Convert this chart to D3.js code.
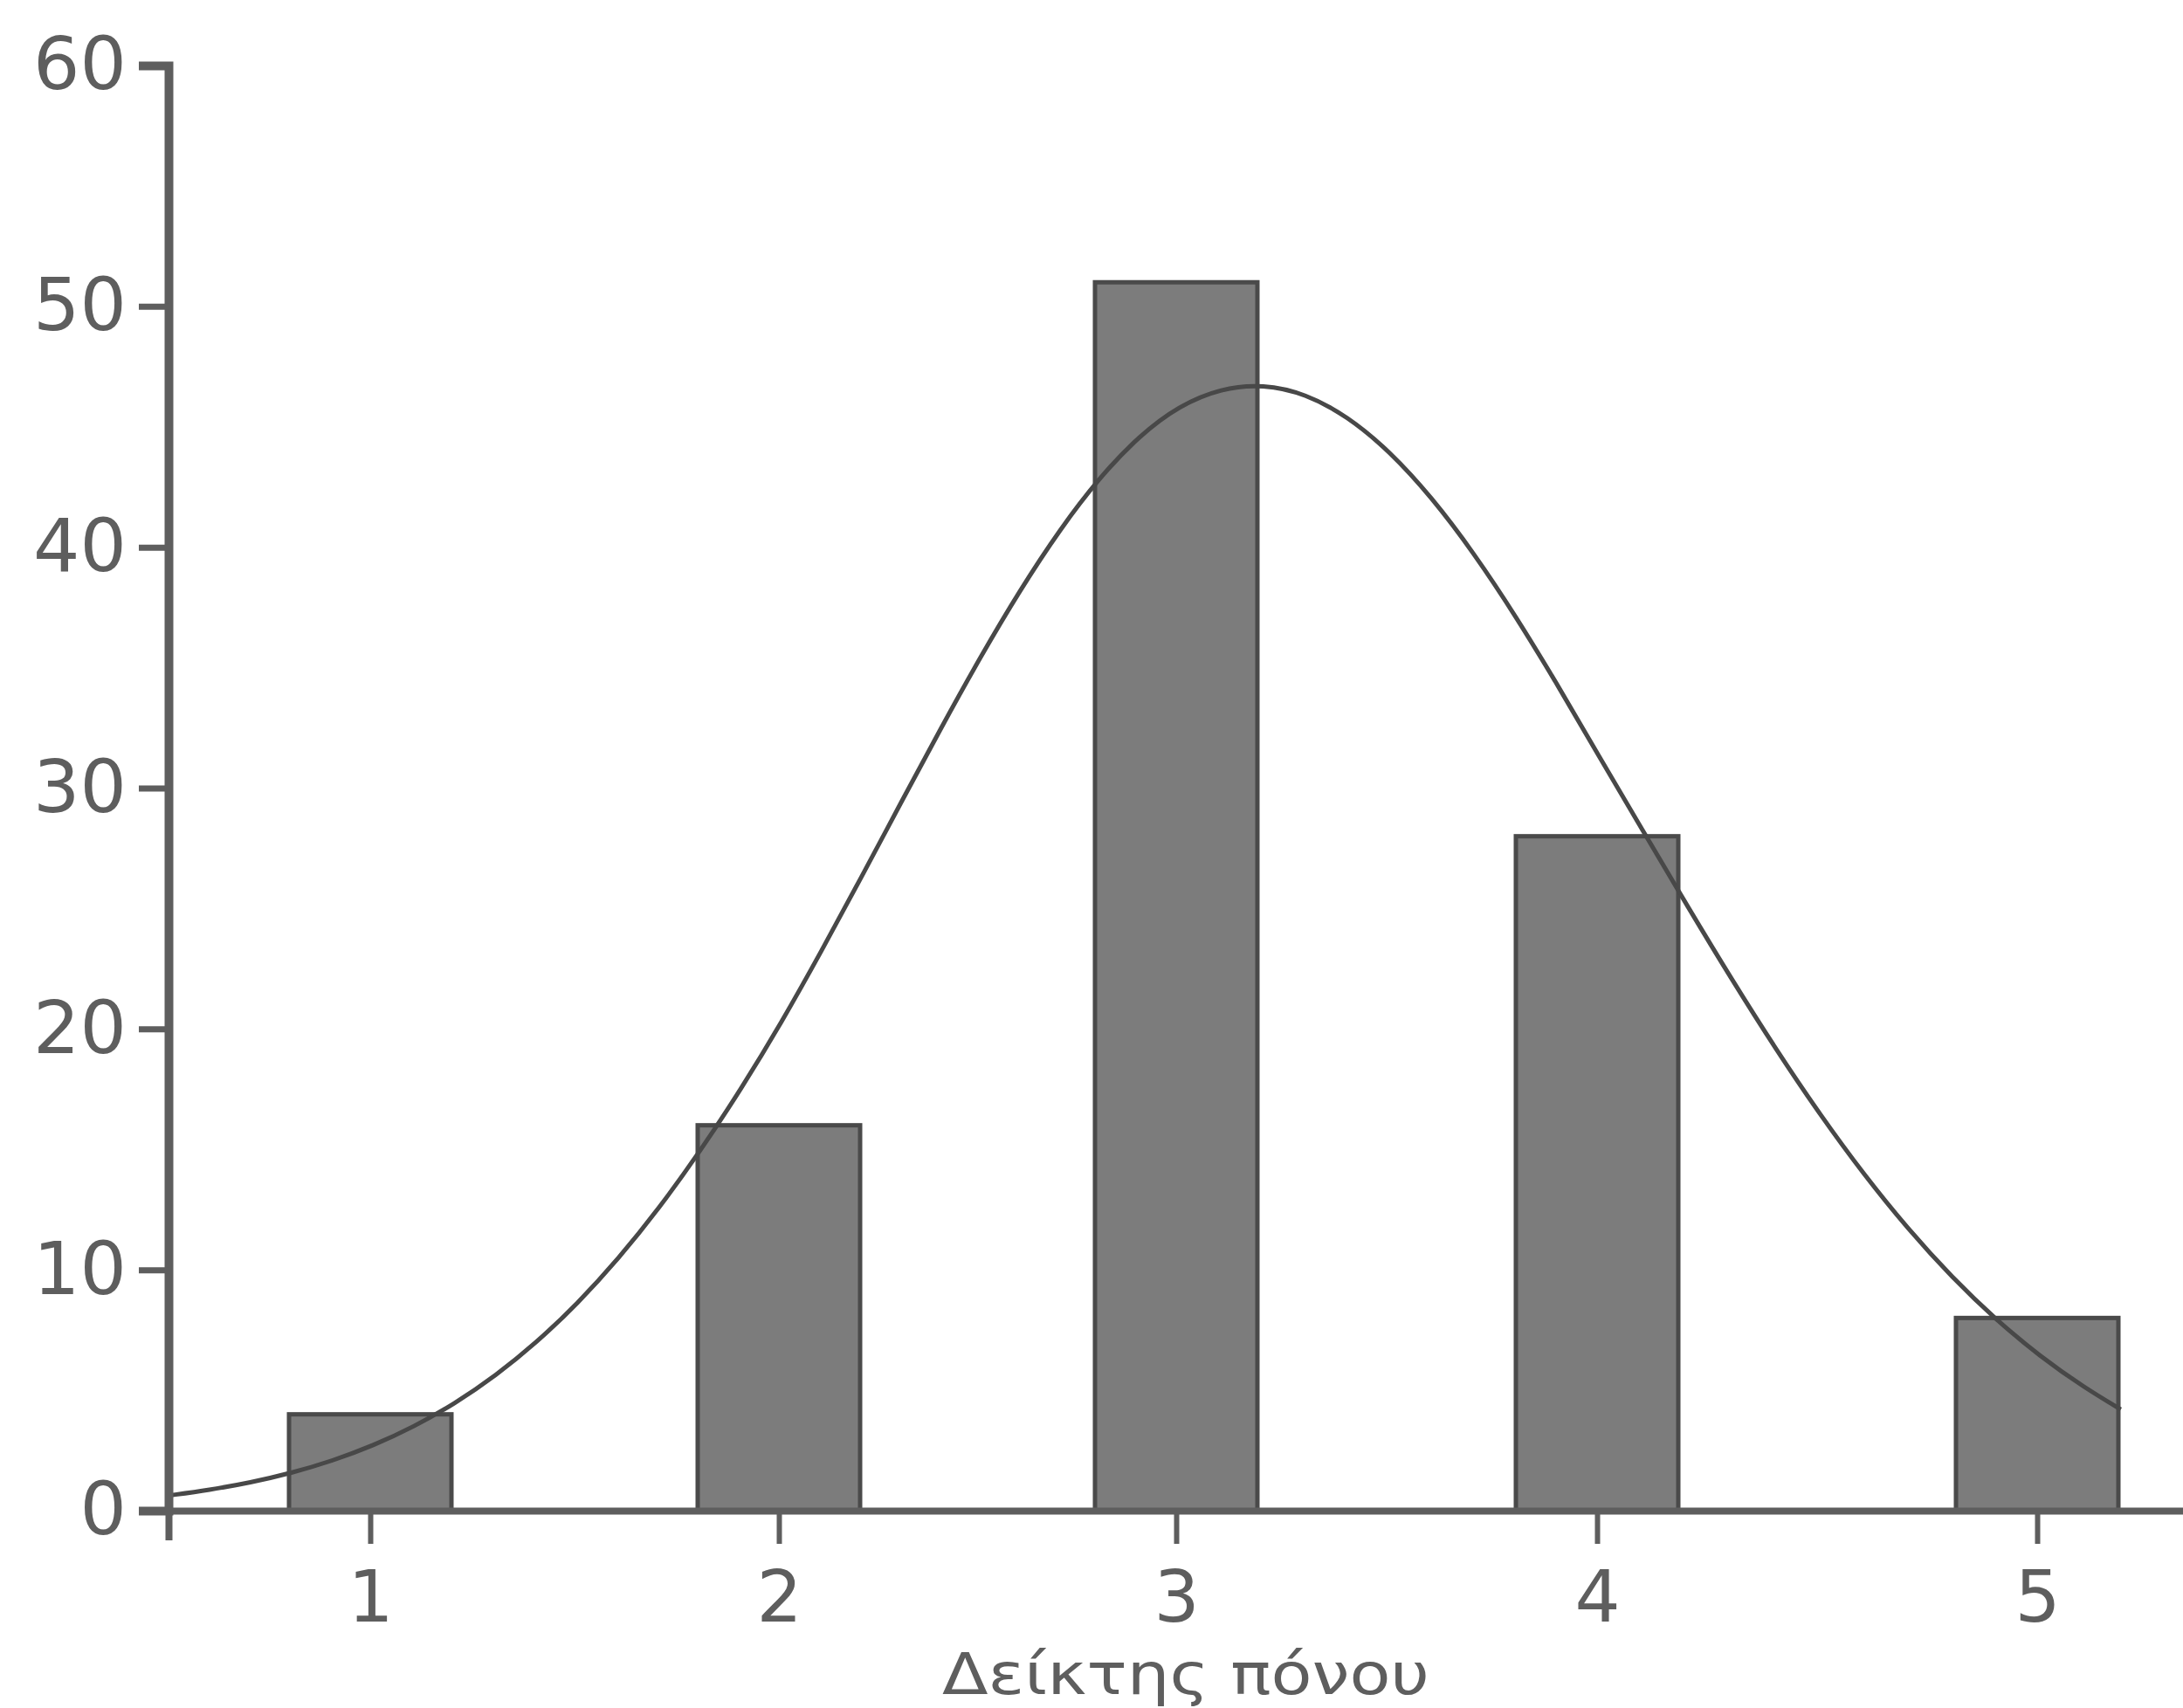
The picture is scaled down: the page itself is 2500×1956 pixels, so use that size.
<!DOCTYPE html>
<html>
<head>
<meta charset="utf-8">
<script src="https://cdn.jsdelivr.net/npm/d3@7"></script>
<style>
  html, body { margin: 0; padding: 0; background: #ffffff; }
  svg { display: block; }
</style>
</head>
<body>
<svg id="chart" width="2500" height="1956"></svg>
<script>
// ---- data ----
const categories = [1, 2, 3, 4, 5];            // Δείκτης πόνου
const counts     = [4, 16, 51, 28, 8];         // frequency per category
const yTickValues = [0, 10, 20, 30, 40, 50, 60];
const xTickValues = [1, 2, 3, 4, 5];
const xTitle = "Δείκτης πόνου";

// ---- layout ----
const axisX = 193, axisY = 1730, topY = 75;
const barWidth = 186;
const ink = "#5e5e5e";
const font = "'DejaVu Sans', sans-serif";

const svg = d3.select("#chart");

// x scale: piecewise to follow the (uneven) tick spacing of the reference
const x = d3.scaleLinear()
  .domain([0.507, 1, 2, 3, 4, 5, 5.5])
  .range([axisX, 424, 892, 1347, 1829, 2333, 2585]);

const y = d3.scaleLinear().domain([0, 60]).range([axisY, topY]);

// ---- bars ----
svg.append("g").selectAll("rect")
  .data(categories.map((c, i) => ({ c, v: counts[i] })))
  .join("rect")
  .attr("x", d => x(d.c) - barWidth / 2)
  .attr("y", d => y(d.v))
  .attr("width", barWidth)
  .attr("height", d => y(0) - y(d.v))
  .attr("fill", "#7c7c7c")
  .attr("stroke", "#4a4a4a")
  .attr("stroke-width", 5);

// ---- fitted normal curve (from the frequency data) ----
const N = d3.sum(counts);
const mean = d3.sum(categories, (c, i) => c * counts[i]) / N;
const variance = d3.sum(categories, (c, i) => counts[i] * (c - mean) ** 2) / (N - 1);
const sd = Math.sqrt(variance);
const normal = t => N / (sd * Math.sqrt(2 * Math.PI)) * Math.exp(-0.5 * ((t - mean) / sd) ** 2);
const curveXs = d3.range(0.507, 5.19, 0.1).concat([5.19]);

svg.append("path")
  .datum(curveXs)
  .attr("fill", "none")
  .attr("stroke", "#484848")
  .attr("stroke-width", 5)
  .attr("d", d3.line().curve(d3.curveBasis)
    .x(t => x(t)).y(t => y(normal(t))));

// ---- axes ----
const yAxis = d3.axisLeft(y)
  .tickValues(yTickValues)
  .tickFormat(d3.format("d"))
  .tickSize(34)
  .tickSizeOuter(34)
  .tickPadding(14);

const gy = svg.append("g")
  .attr("transform", `translate(${axisX},0)`)
  .call(yAxis);

const xAxis = d3.axisBottom(x)
  .tickValues(xTickValues)
  .tickFormat(d3.format("d"))
  .tickSize(38)
  .tickSizeOuter(34)
  .tickPadding(31);

const gx = svg.append("g")
  .attr("transform", `translate(0,${axisY})`)
  .call(xAxis);

gy.select(".domain").attr("stroke", ink).attr("stroke-width", 10);
gx.select(".domain").attr("stroke", ink).attr("stroke-width", 8);
gy.selectAll(".tick line").attr("stroke", ink).attr("stroke-width", 7);
gx.selectAll(".tick line").attr("stroke", ink).attr("stroke-width", 6);

gy.selectAll(".tick text")
  .attr("fill", ink)
  .style("font-family", font)
  .style("font-size", "84px");
gx.selectAll(".tick text")
  .attr("fill", ink)
  .style("font-family", font)
  .style("font-size", "82px");

// ---- axis title ----
svg.append("text")
  .attr("x", 1358)
  .attr("y", 1940)
  .attr("text-anchor", "middle")
  .attr("fill", ink)
  .attr("textLength", 558)
  .attr("lengthAdjust", "spacingAndGlyphs")
  .style("font-family", font)
  .style("font-size", "66px")
  .text(xTitle);
</script>
</body>
</html>
